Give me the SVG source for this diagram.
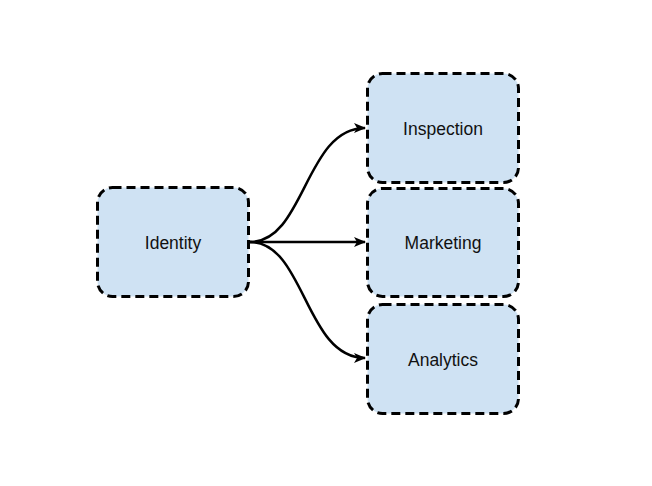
<svg xmlns="http://www.w3.org/2000/svg" width="652" height="486" viewBox="0 0 652 486">
<style>
.node rect{fill:#cfe2f3;stroke:#000;stroke-width:3;stroke-dasharray:9,5}
.node text{font-family:"Liberation Sans",Arial,sans-serif;font-size:17.5px;fill:#111;text-anchor:middle;dominant-baseline:central}
.edge{fill:none;stroke:#000;stroke-width:2.5;marker-end:url(#arr)}
</style>
<defs>
<marker id="arr" viewBox="0 0 12 10" refX="11" refY="5" markerWidth="12" markerHeight="10" markerUnits="userSpaceOnUse" orient="auto">
<path d="M0,0 L12,5 L0,10 L3,5 Z" fill="#000"/>
</marker>
</defs>
<rect width="652" height="486" fill="#fff"/>
<g id="connectors">
<path class="edge" d="M250,242 C305,242 305,128 365,128"/>
<path class="edge" d="M250,242 L365,242"/>
<path class="edge" d="M250,242 C305,242 305,358 365,358"/>
</g>
<g id="identity" class="node"><rect x="97.5" y="187.5" width="151" height="109" rx="15"/><text x="173" y="243">Identity</text></g>
<g id="inspection" class="node"><rect x="367.5" y="73.5" width="151" height="109" rx="15"/><text x="443" y="129">Inspection</text></g>
<g id="marketing" class="node"><rect x="367.5" y="188.5" width="151" height="108" rx="15"/><text x="443" y="243">Marketing</text></g>
<g id="analytics" class="node"><rect x="367.5" y="304.5" width="151" height="109" rx="15"/><text x="443" y="360">Analytics</text></g>
</svg>
